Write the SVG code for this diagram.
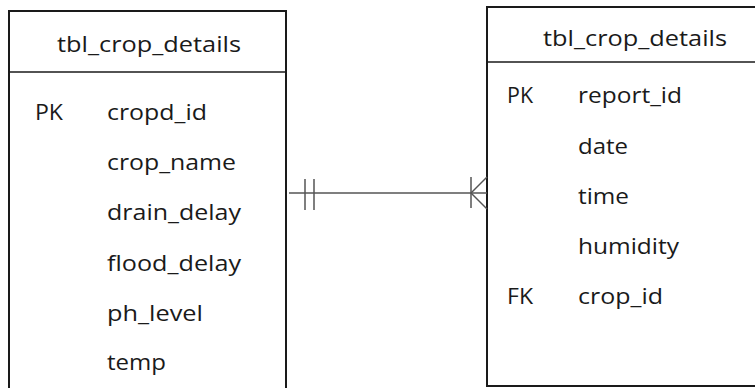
<svg xmlns="http://www.w3.org/2000/svg" width="755" height="388" viewBox="0 0 755 388">
<style>
.box{fill:#fff;stroke:#1a1a1a;stroke-width:2}
.sep{stroke:#1a1a1a;stroke-width:1.5}
.t{font-family:"Open Sans","DejaVu Sans",sans-serif;font-size:22px;fill:#1a1a1a}
.c{stroke:#555;stroke-width:1.5;fill:none}
</style>
<rect width="755" height="388" fill="#fff"/>
<g id="tbl_left">
<rect class="box" x="9" y="11" width="277" height="400"/>
<line class="sep" x1="9" y1="72" x2="286" y2="72"/>
<text class="t" x="57" y="52" textLength="184" lengthAdjust="spacingAndGlyphs">tbl_crop_details</text>
<text class="t" x="35" y="120" textLength="28" lengthAdjust="spacingAndGlyphs">PK</text>
<text class="t" x="107" y="120" textLength="100" lengthAdjust="spacingAndGlyphs">cropd_id</text>
<text class="t" x="107" y="170" textLength="129" lengthAdjust="spacingAndGlyphs">crop_name</text>
<text class="t" x="107" y="220" textLength="134" lengthAdjust="spacingAndGlyphs">drain_delay</text>
<text class="t" x="107" y="271" textLength="134" lengthAdjust="spacingAndGlyphs">flood_delay</text>
<text class="t" x="107" y="321" textLength="96" lengthAdjust="spacingAndGlyphs">ph_level</text>
<text class="t" x="107" y="370" textLength="59" lengthAdjust="spacingAndGlyphs">temp</text>
</g>
<g id="tbl_right">
<rect class="box" x="487" y="7" width="280" height="379"/>
<line class="sep" x1="487" y1="62" x2="755" y2="62"/>
<text class="t" x="543" y="46" textLength="184" lengthAdjust="spacingAndGlyphs">tbl_crop_details</text>
<text class="t" x="507" y="103" textLength="26" lengthAdjust="spacingAndGlyphs">PK</text>
<text class="t" x="578" y="103" textLength="104" lengthAdjust="spacingAndGlyphs">report_id</text>
<text class="t" x="578" y="154" textLength="50" lengthAdjust="spacingAndGlyphs">date</text>
<text class="t" x="578" y="204" textLength="51" lengthAdjust="spacingAndGlyphs">time</text>
<text class="t" x="578" y="254" textLength="101" lengthAdjust="spacingAndGlyphs">humidity</text>
<text class="t" x="507" y="304" textLength="26" lengthAdjust="spacingAndGlyphs">FK</text>
<text class="t" x="578" y="304" textLength="85" lengthAdjust="spacingAndGlyphs">crop_id</text>
</g>
<g id="connectors">
<line class="c" x1="289" y1="193" x2="487" y2="193"/>
<line class="c" x1="305" y1="179" x2="305" y2="210"/>
<line class="c" x1="314" y1="179" x2="314" y2="210"/>
<line class="c" x1="471" y1="177" x2="471" y2="208"/>
<line class="c" x1="471" y1="193" x2="487" y2="177"/>
<line class="c" x1="471" y1="193" x2="487" y2="209"/>
</g>
</svg>
